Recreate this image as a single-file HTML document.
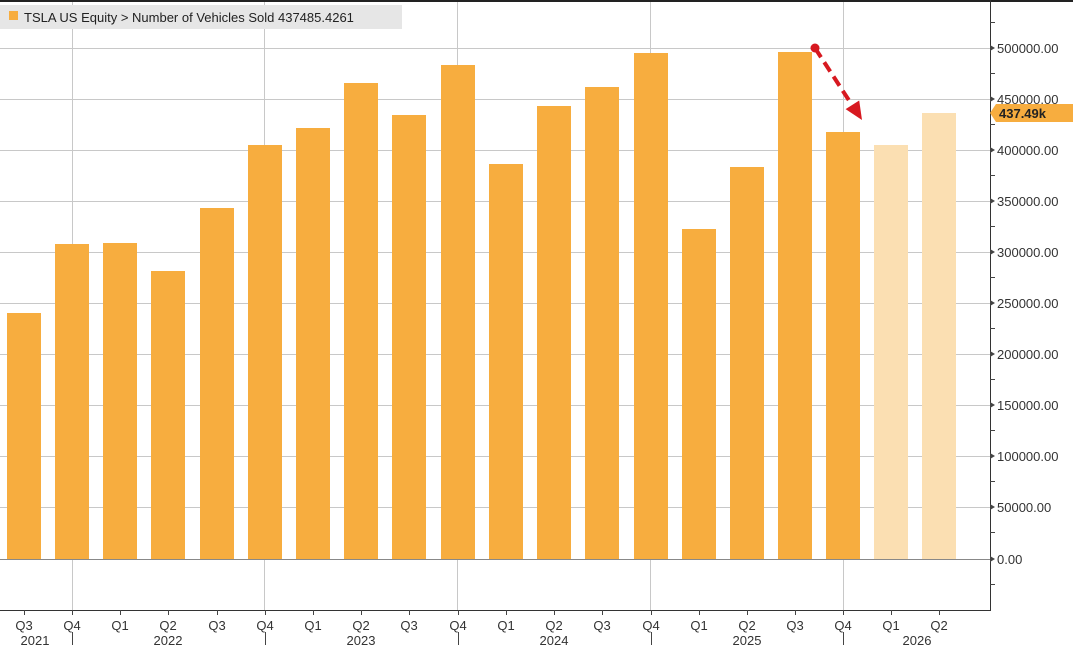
<!DOCTYPE html>
<html><head><style>
html,body{margin:0;padding:0;background:#fff;}
svg{display:block;font-family:"Liberation Sans","DejaVu Sans",sans-serif;}
</style></head><body>
<svg width="1073" height="651" viewBox="0 0 1073 651" xmlns="http://www.w3.org/2000/svg">
<rect width="1073" height="651" fill="#fff"/>
<rect x="0" y="0" width="1073" height="2" fill="#222"/>
<g stroke="#c8c8c8" stroke-width="1">
<line x1="0" y1="48.5" x2="990" y2="48.5"/><line x1="0" y1="99.5" x2="990" y2="99.5"/>
<line x1="0" y1="150.5" x2="990" y2="150.5"/><line x1="0" y1="201.5" x2="990" y2="201.5"/>
<line x1="0" y1="252.5" x2="990" y2="252.5"/><line x1="0" y1="303.5" x2="990" y2="303.5"/>
<line x1="0" y1="354.5" x2="990" y2="354.5"/><line x1="0" y1="405.5" x2="990" y2="405.5"/>
<line x1="0" y1="456.5" x2="990" y2="456.5"/><line x1="0" y1="507.5" x2="990" y2="507.5"/>
<line x1="72.5" y1="2" x2="72.5" y2="610"/><line x1="264.5" y1="2" x2="264.5" y2="610"/>
<line x1="457.5" y1="2" x2="457.5" y2="610"/><line x1="650.5" y1="2" x2="650.5" y2="610"/>
<line x1="843.5" y1="2" x2="843.5" y2="610"/>
</g>
<rect x="0" y="5" width="402" height="24" fill="#e6e6e6"/>
<rect x="9" y="11" width="9" height="9" fill="#f7ad3f"/>
<text x="24" y="22" font-size="13" fill="#222">TSLA US Equity &gt; Number of Vehicles Sold  437485.4261</text>
<g fill="#f7ad3f">
<rect x="7" y="313" width="34" height="246"/>
<rect x="55" y="244" width="34" height="315"/>
<rect x="103" y="243" width="34" height="316"/>
<rect x="151" y="271" width="34" height="288"/>
<rect x="200" y="208" width="34" height="351"/>
<rect x="248" y="145" width="34" height="414"/>
<rect x="296" y="128" width="34" height="431"/>
<rect x="344" y="83" width="34" height="476"/>
<rect x="392" y="115" width="34" height="444"/>
<rect x="441" y="65" width="34" height="494"/>
<rect x="489" y="164" width="34" height="395"/>
<rect x="537" y="106" width="34" height="453"/>
<rect x="585" y="87" width="34" height="472"/>
<rect x="634" y="53" width="34" height="506"/>
<rect x="682" y="229" width="34" height="330"/>
<rect x="730" y="167" width="34" height="392"/>
<rect x="778" y="52" width="34" height="507"/>
<rect x="826" y="132" width="34" height="427"/>
</g>
<g fill="#fbdfb2">
<rect x="874" y="145" width="34" height="414"/>
<rect x="922" y="113" width="34" height="446"/>
</g>
<line x1="0" y1="559.5" x2="990" y2="559.5" stroke="#888" stroke-width="1"/>
<line x1="990.5" y1="0" x2="990.5" y2="611" stroke="#333"/>
<line x1="0" y1="610.5" x2="991" y2="610.5" stroke="#333"/>
<g stroke="#444">
<line x1="990" y1="22.5" x2="995" y2="22.5"/><line x1="990" y1="73.5" x2="995" y2="73.5"/>
<line x1="990" y1="124.5" x2="995" y2="124.5"/><line x1="990" y1="175.5" x2="995" y2="175.5"/>
<line x1="990" y1="226.5" x2="995" y2="226.5"/><line x1="990" y1="277.5" x2="995" y2="277.5"/>
<line x1="990" y1="328.5" x2="995" y2="328.5"/><line x1="990" y1="379.5" x2="995" y2="379.5"/>
<line x1="990" y1="430.5" x2="995" y2="430.5"/><line x1="990" y1="481.5" x2="995" y2="481.5"/>
<line x1="990" y1="532.5" x2="995" y2="532.5"/><line x1="990" y1="584.5" x2="995" y2="584.5"/>
</g>
<g fill="#444">
<path d="M990 45v6l5-3z"/><path d="M990 96v6l5-3z"/><path d="M990 147v6l5-3z"/>
<path d="M990 198v6l5-3z"/><path d="M990 249v6l5-3z"/><path d="M990 300v6l5-3z"/>
<path d="M990 351v6l5-3z"/><path d="M990 402v6l5-3z"/><path d="M990 453v6l5-3z"/>
<path d="M990 504v6l5-3z"/><path d="M990 556v6l5-3z"/>
</g>
<g font-size="13" fill="#333">
<text x="997" y="53">500000.00</text><text x="997" y="104">450000.00</text>
<text x="997" y="155">400000.00</text><text x="997" y="206">350000.00</text>
<text x="997" y="257">300000.00</text><text x="997" y="308">250000.00</text>
<text x="997" y="359">200000.00</text><text x="997" y="410">150000.00</text>
<text x="997" y="461">100000.00</text><text x="997" y="512">50000.00</text>
<text x="997" y="564">0.00</text>
</g>
<path d="M990 113l6-9h77v18h-77z" fill="#f7ad3f"/>
<text x="999" y="118" font-size="13" font-weight="bold" fill="#222">437.49k</text>
<g stroke="#444">
<line x1="24.5" y1="610" x2="24.5" y2="615"/><line x1="72.5" y1="610" x2="72.5" y2="615"/>
<line x1="120.5" y1="610" x2="120.5" y2="615"/><line x1="168.5" y1="610" x2="168.5" y2="615"/>
<line x1="217.5" y1="610" x2="217.5" y2="615"/><line x1="265.5" y1="610" x2="265.5" y2="615"/>
<line x1="313.5" y1="610" x2="313.5" y2="615"/><line x1="361.5" y1="610" x2="361.5" y2="615"/>
<line x1="409.5" y1="610" x2="409.5" y2="615"/><line x1="458.5" y1="610" x2="458.5" y2="615"/>
<line x1="506.5" y1="610" x2="506.5" y2="615"/><line x1="554.5" y1="610" x2="554.5" y2="615"/>
<line x1="602.5" y1="610" x2="602.5" y2="615"/><line x1="651.5" y1="610" x2="651.5" y2="615"/>
<line x1="699.5" y1="610" x2="699.5" y2="615"/><line x1="747.5" y1="610" x2="747.5" y2="615"/>
<line x1="795.5" y1="610" x2="795.5" y2="615"/><line x1="843.5" y1="610" x2="843.5" y2="615"/>
<line x1="891.5" y1="610" x2="891.5" y2="615"/><line x1="939.5" y1="610" x2="939.5" y2="615"/>
<line x1="72.5" y1="632" x2="72.5" y2="645"/><line x1="265.5" y1="632" x2="265.5" y2="645"/>
<line x1="458.5" y1="632" x2="458.5" y2="645"/><line x1="651.5" y1="632" x2="651.5" y2="645"/>
<line x1="843.5" y1="632" x2="843.5" y2="645"/>
</g>
<g font-size="13" fill="#333" text-anchor="middle">
<text x="24" y="630">Q3</text><text x="72" y="630">Q4</text><text x="120" y="630">Q1</text>
<text x="168" y="630">Q2</text><text x="217" y="630">Q3</text><text x="265" y="630">Q4</text>
<text x="313" y="630">Q1</text><text x="361" y="630">Q2</text><text x="409" y="630">Q3</text>
<text x="458" y="630">Q4</text><text x="506" y="630">Q1</text><text x="554" y="630">Q2</text>
<text x="602" y="630">Q3</text><text x="651" y="630">Q4</text><text x="699" y="630">Q1</text>
<text x="747" y="630">Q2</text><text x="795" y="630">Q3</text><text x="843" y="630">Q4</text>
<text x="891" y="630">Q1</text><text x="939" y="630">Q2</text>
<text x="35" y="645">2021</text><text x="168" y="645">2022</text><text x="361" y="645">2023</text>
<text x="554" y="645">2024</text><text x="747" y="645">2025</text><text x="917" y="645">2026</text>
</g>
<line x1="815" y1="48" x2="852" y2="105" stroke="#d71920" stroke-width="4" stroke-dasharray="11,6"/>
<circle cx="815" cy="48" r="4.5" fill="#d71920"/>
<path d="M862 120L859.2 100.5L845.6 109.1z" fill="#d71920"/>
</svg>
</body></html>
